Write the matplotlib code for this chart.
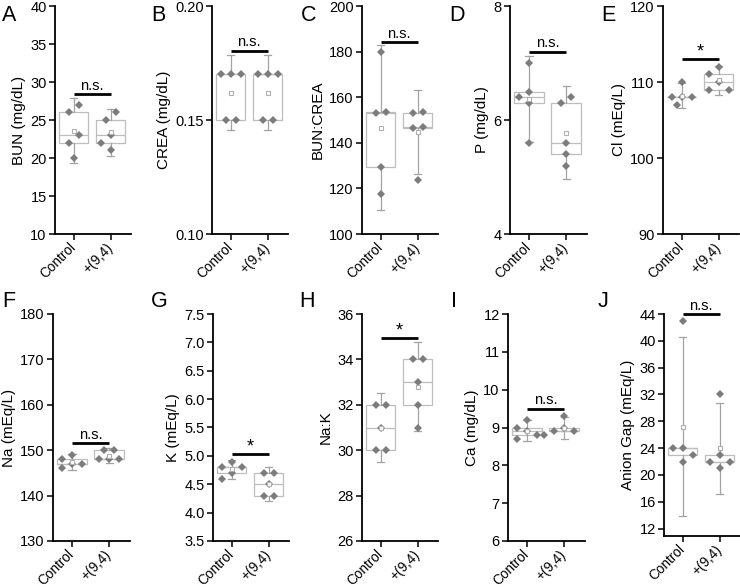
import numpy as np
import matplotlib
matplotlib.use("Agg")
import matplotlib.pyplot as plt

plt.rcParams['font.family'] = ['Liberation Sans', 'DejaVu Sans']

# ---------------- data ----------------
groups = ["Control", "+(9,4)"]

bun_ctrl = [26, 27, 22, 23, 20]
bun_trt = [26, 25, 22, 23, 21]
crea_ctrl = [0.17, 0.15, 0.17, 0.15, 0.17]
crea_trt = [0.17, 0.17, 0.15, 0.15, 0.17]
ratio_ctrl = [152.9, 180.0, 129.4, 153.3, 117.6]
ratio_trt = [152.9, 147.1, 146.7, 153.3, 123.5]
p_ctrl = [7.0, 6.5, 6.4, 6.3, 5.6]
p_trt = [6.4, 6.3, 5.6, 5.4, 5.2]
cl_ctrl = [110, 108, 108, 108, 107]
cl_trt = [112, 111, 110, 109, 109]
na_ctrl = [149, 148, 147, 147, 146]
na_trt = [150, 150, 148, 148, 148]
k_ctrl = [4.9, 4.8, 4.8, 4.7, 4.6]
k_trt = [4.7, 4.7, 4.5, 4.3, 4.3]
nak_ctrl = [32, 32, 31, 30, 30]
nak_trt = [34, 34, 33, 32, 31]
ca_ctrl = [9.2, 9.0, 8.9, 8.8, 8.7]
ca_trt = [9.3, 9.0, 8.9, 8.9, 8.8]
ag_ctrl = [43, 24, 24, 23, 22]
ag_trt = [32, 23, 22, 22, 21]

panel_letters = ["A", "B", "C", "D", "E", "F", "G", "H", "I", "J"]
ylabels = ["BUN (mg/dL)", "CREA (mg/dL)", "BUN:CREA", "P (mg/dL)", "Cl (mEq/L)",
           "Na (mEq/L)", "K (mEq/L)", "Na:K", "Ca (mg/dL)", "Anion Gap (mEq/L)"]
ctrl_sets = [bun_ctrl, crea_ctrl, ratio_ctrl, p_ctrl, cl_ctrl,
             na_ctrl, k_ctrl, nak_ctrl, ca_ctrl, ag_ctrl]
trt_sets = [bun_trt, crea_trt, ratio_trt, p_trt, cl_trt,
            na_trt, k_trt, nak_trt, ca_trt, ag_trt]
ylims = [(10, 40), (0.10, 0.20), (100, 200), (4, 8), (90, 120),
         (130, 180), (3.5, 7.5), (26, 36), (6, 12), (10.9, 44)]
yticks = [np.arange(10, 41, 5), [0.10, 0.15, 0.20], np.arange(100, 201, 20),
          [4, 6, 8], [90, 100, 110, 120], np.arange(130, 181, 10),
          np.arange(3.5, 7.51, 0.5), np.arange(26, 37, 2), np.arange(6, 13, 1),
          np.arange(12, 45, 4)]
ytickfmt = ["%d", "%.2f", "%d", "%d", "%d", "%d", "%.1f", "%d", "%d", "%d"]
sig_labels = ["n.s.", "n.s.", "n.s.", "n.s.", "*", "n.s.", "*", "*", "n.s.", "n.s."]
sig_heights = [28.4, 0.1804, 184, 7.2, 113.0, 151.5, 5.03, 34.94, 9.5, 44.0]

# ---------------- layout (pixels) ----------------
W, H = 740, 587
fig = plt.figure(figsize=(W / 100, H / 100), dpi=100)

# (left, top, right, bottom) in pixels from top-left
ax_px = [(55, 6, 131, 234), (212, 6, 288, 234), (362, 6, 438, 234),
         (510, 6, 587, 234), (663, 6, 739, 234),
         (53, 314, 130, 541), (213, 314, 289, 541), (362, 314, 438, 541),
         (508, 314, 585, 541), (664, 314, 740, 536)]
letter_px = [(2, 5), (151, 5), (301, 5), (449, 5), (601, 5),
             (2, 291), (151, 291), (299, 291), (451, 291), (598, 291)]

PT_COLOR = "#7c7c7c"
BOX_COLOR = "#bdbdbd"
WHISK_COLOR = "#a3a3a3"
XLIM = (0.5, 2.55)
D_PX = 10.0  # horizontal spacing of swarm points
T_PX = 8.0   # collision distance


def swarm_offsets(vals, ppu_y, ppu_x):
    vals = np.asarray(vals, float)
    order = np.argsort(-vals, kind="stable")
    placed = []
    ks = np.zeros(len(vals))
    for i in order:
        y = vals[i] * ppu_y
        for k in [0, -1, 1, -0.5, 0.5, -2, 2, -3, 3]:
            x = k * D_PX
            if all(np.hypot(x - px, y - py) >= T_PX for px, py in placed):
                break
        placed.append((x, y))
        ks[i] = k
    # centre simple pairs (one centre + one left)
    n = len(vals)
    parent = list(range(n))

    def find(a):
        while parent[a] != a:
            a = parent[a]
        return a
    for a in range(n):
        for b in range(a + 1, n):
            if abs(vals[a] - vals[b]) * ppu_y < T_PX:
                parent[find(a)] = find(b)
    clusters = {}
    for a in range(n):
        clusters.setdefault(find(a), []).append(a)
    for members in clusters.values():
        kk = sorted(ks[m] for m in members)
        if len(members) == 2 and kk == [-1, 0]:
            for m in members:
                ks[m] += 0.5
    return ks * D_PX / ppu_x


for idx in range(10):
    l, t, r, b = ax_px[idx]
    ax = fig.add_axes([l / W, 1 - b / H, (r - l) / W, (b - t) / H])
    ylo, yhi = ylims[idx]
    ax.set_xlim(*XLIM)
    ax.set_ylim(ylo, yhi)
    ppu_y = (b - t) / (yhi - ylo)
    ppu_x = (r - l) / (XLIM[1] - XLIM[0])

    stats = []
    means = []
    for gi, data in enumerate([ctrl_sets[idx], trt_sets[idx]]):
        d = np.asarray(data, float)
        q1, med, q3 = np.percentile(d, [25, 50, 75])
        mu = d.mean()
        sd = d.std(ddof=1)
        stats.append(dict(med=med, q1=q1, q3=q3, whislo=mu - 1.5 * sd,
                          whishi=mu + 1.5 * sd, mean=mu, fliers=[]))
        means.append(mu)
    ax.bxp(stats, positions=[1, 2], widths=0.8, capwidths=0.2,
           showmeans=False, showfliers=False, patch_artist=True,
           boxprops=dict(facecolor="white", edgecolor=BOX_COLOR, linewidth=0.9),
           medianprops=dict(color=BOX_COLOR, linewidth=0.9),
           whiskerprops=dict(color=WHISK_COLOR, linewidth=0.9),
           capprops=dict(color=WHISK_COLOR, linewidth=0.9), zorder=2)

    for gi, data in enumerate([ctrl_sets[idx], trt_sets[idx]]):
        offs = swarm_offsets(data, ppu_y, ppu_x)
        ax.plot(gi + 1 + offs, data, linestyle="none", marker="D", markersize=3.8,
                color=PT_COLOR, markeredgewidth=0, zorder=3, clip_on=False)
    ax.plot([1, 2], means, linestyle="none", marker="s", markersize=3.0,
            markerfacecolor="white", markeredgecolor="#b0b0b0",
            markeredgewidth=0.8, zorder=4, clip_on=False)

    # significance bar
    sh = sig_heights[idx]
    ax.plot([1, 2], [sh, sh], color="black", linewidth=2.0, clip_on=False,
            solid_capstyle="butt", zorder=5)
    if sig_labels[idx] == "*":
        ax.annotate("*", xy=(1.5, sh), xytext=(0, -1), textcoords="offset points",
                    ha="center", va="bottom", fontsize=13, annotation_clip=False)
    else:
        ax.annotate("n.s.", xy=(1.5, sh), xytext=(0, 1), textcoords="offset points",
                    ha="center", va="bottom", fontsize=10.5, annotation_clip=False)

    # axes styling
    for s in ["top", "right"]:
        ax.spines[s].set_visible(False)
    for s in ["left", "bottom"]:
        ax.spines[s].set_linewidth(1.3)
        ax.spines[s].set_color("black")
    ax.set_yticks(yticks[idx])
    ax.set_yticklabels([ytickfmt[idx] % v for v in yticks[idx]], fontsize=10.5)
    ax.set_xticks([1, 2])
    ax.set_xticklabels(groups, rotation=45, ha="right", va="center",
                       rotation_mode="anchor", fontsize=9.8)
    ax.tick_params(axis="both", direction="out", length=4, width=1.1, pad=2)
    ax.tick_params(axis="x", pad=4)
    ax.set_ylabel(ylabels[idx], fontsize=11, labelpad=3)
    ax.patch.set_alpha(0)

    lx, ly = letter_px[idx]
    fig.text(lx / W, 1 - ly / H, panel_letters[idx], fontsize=15.5,
             ha="left", va="top")

fig.savefig("out.png", dpi=100)
